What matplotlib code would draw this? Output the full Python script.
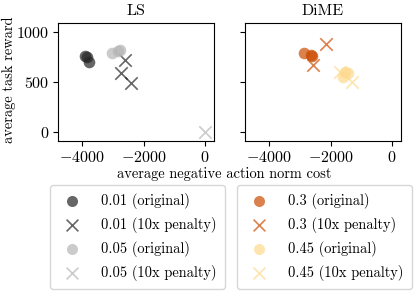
import matplotlib
matplotlib.use("Agg")
from matplotlib import pyplot as plt

plt.rcParams['font.family'] = 'serif'
plt.rcParams['font.serif'] = ['cmr10']
plt.rcParams['mathtext.fontset'] = 'cm'
plt.rcParams['axes.formatter.use_mathtext'] = True
plt.rcParams['axes.unicode_minus'] = True
plt.rcParams['font.size'] = 10.4

# LS
ls_01_orig_x = [-3900, -3850, -3780]
ls_01_orig_y = [760, 750, 700]
ls_01_pen_x = [-2600, -2730, -2400]
ls_01_pen_y = [720, 590, 490]
ls_05_orig_x = [-3025, -2830, -2760]
ls_05_orig_y = [790, 810, 820]
ls_05_pen_x = [0]
ls_05_pen_y = [5]

# DiME
dm_3_orig_x = [-2860, -2600, -2620]
dm_3_orig_y = [790, 760, 770]
dm_3_pen_x = [-2150, -2570]
dm_3_pen_y = [880, 670]
dm_45_orig_x = [-1530, -1430, -1600]
dm_45_orig_y = [600, 590, 550]
dm_45_pen_x = [-1300, -1690]
dm_45_pen_y = [500, 600]

dark_gray = '#252525'
light_gray = '#b5b5b5'
dark_orange = '#cc4c02'
light_orange = '#fed98e'

fig = plt.figure(figsize=(4.15, 2.91), dpi=100)
ax1 = fig.add_axes([58/415, 1 - 141/291, 156/415, 118/291])
ax2 = fig.add_axes([245/415, 1 - 141/291, 156/415, 118/291], sharex=ax1, sharey=ax1)

h1 = ax1.scatter(ls_01_orig_x, ls_01_orig_y, s=70, color=dark_gray, alpha=0.7,
                 marker='o', linewidths=0, label='0.01 (original)')
h2 = ax1.scatter(ls_01_pen_x, ls_01_pen_y, s=80, color=dark_gray, alpha=0.7,
                 marker='x', linewidths=1.2, label='0.01 (10x penalty)')
h3 = ax1.scatter(ls_05_orig_x, ls_05_orig_y, s=70, color=light_gray, alpha=0.7,
                 marker='o', linewidths=0, label='0.05 (original)')
h4 = ax1.scatter(ls_05_pen_x, ls_05_pen_y, s=80, color=light_gray, alpha=0.7,
                 marker='x', linewidths=1.2, label='0.05 (10x penalty)')

g1 = ax2.scatter(dm_3_orig_x, dm_3_orig_y, s=70, color=dark_orange, alpha=0.7,
                 marker='o', linewidths=0, label='0.3 (original)')
g2 = ax2.scatter(dm_3_pen_x, dm_3_pen_y, s=80, color=dark_orange, alpha=0.7,
                 marker='x', linewidths=1.2, label='0.3 (10x penalty)')
g3 = ax2.scatter(dm_45_orig_x, dm_45_orig_y, s=70, color=light_orange, alpha=0.7,
                 marker='o', linewidths=0, label='0.45 (original)')
g4 = ax2.scatter(dm_45_pen_x, dm_45_pen_y, s=80, color=light_orange, alpha=0.7,
                 marker='x', linewidths=1.2, label='0.45 (10x penalty)')

ax1.set_xlim(-4780, 290)
ax1.set_ylim(-90, 1090)
ax1.set_xticks([-4000, -2000, 0])
ax1.set_yticks([0, 500, 1000])
for ax in (ax1, ax2):
    ax.tick_params(labelsize=11.5, pad=3)
ax2.tick_params(labelleft=False)

ax1.set_title('LS', fontsize=11.5)
ax2.set_title('DiME', fontsize=11.5)
ax1.set_ylabel('average task reward')
ax1.yaxis.set_label_coords(-0.27, 0.52)
fig.text(224/415, 1 - 174/291, 'average negative action norm cost',
         ha='center', va='center')

leg_kw = dict(loc='upper left', labelspacing=0.55, handletextpad=1.0,
              borderpad=0.55, borderaxespad=0, markerscale=0.95)
fig.legend(handles=[h1, h2, h3, h4], bbox_to_anchor=(50/415, 1 - 185/291), **leg_kw)
fig.legend(handles=[g1, g2, g3, g4], bbox_to_anchor=(237/415, 1 - 185/291), **leg_kw)

fig.savefig('out.png', dpi=100)
